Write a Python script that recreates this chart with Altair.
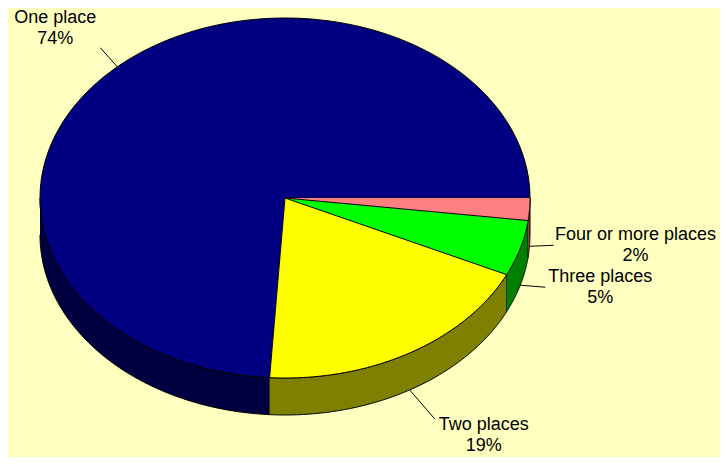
import altair as alt
import pandas as pd

# ---- data ----
CATEGORIES = ["One place", "Two places", "Three places", "Four or more places"]
VALUES = [74, 19, 5, 2]

# ---- style / layout (not data) ----
TOP_COLORS = ["#000080", "#FFFF00", "#00FF00", "#FF8080"]
SIDE_COLORS = ["#000040", "#808000", "#008000", "#804040"]
BG = "#FFFFC0"
# leader end offset from slice mid-point (px), first-line centre offset from leader end (px)
LEADER_DX = [-17, 25, 25, 24]
LEADER_DY = [-19, 29, 2, -1]
TEXT_DX = [-45, 49, 55, 82]
TEXT_DY = [-29.5, 6, -10.5, -10]

W, H = 712, 449
CX, CY = 277, 190          # pie centre in chart px
RX, RY, DEPTH = 245, 180, 37
S = RY / RX
D = DEPTH / RX
N = 120

df = pd.DataFrame({
    "category": CATEGORIES,
    "value": VALUES,
    "idx": list(range(len(CATEGORIES))),
    "ldx": [v / RX for v in LEADER_DX],
    "ldy": [-v / RX for v in LEADER_DY],
    "tdx": [v / RX for v in TEXT_DX],
    "tdy": [-v / RX for v in TEXT_DY],
})

xs = alt.Scale(domain=[-CX / RX, (W - CX) / RX], nice=False, zero=False)
ys = alt.Scale(domain=[(CY - H) / RX, CY / RX], nice=False, zero=False)
top_fill = alt.Scale(domain=CATEGORIES, range=TOP_COLORS)
side_fill = alt.Scale(domain=CATEGORIES, range=SIDE_COLORS)

base = (
    alt.Chart(df)
    .transform_window(cum="sum(value)", sort=[alt.SortField("idx")], frame=[None, 0])
    .transform_joinaggregate(total="sum(value)")
    .transform_calculate(
        a0="2*PI*(datum.cum-datum.value)/datum.total",
        a1="2*PI*datum.cum/datum.total",
    )
)

walls = (
    base.transform_calculate(b0="max(datum.a0, PI)", b1="min(datum.a1, 2*PI)")
    .transform_filter("datum.b1 > datum.b0")
    .transform_calculate(k=f"sequence(0, {2 * N + 2})")
    .transform_flatten(["k"])
    .transform_calculate(
        j=f"datum.k <= {N} ? datum.k : {2 * N + 1} - datum.k",
    )
    .transform_calculate(
        t=f"datum.b0 + (datum.b1 - datum.b0) * datum.j / {N}",
    )
    .transform_calculate(
        px="cos(datum.t)",
        py=f"{S}*sin(datum.t) - (datum.k <= {N} ? 0 : {D})",
    )
    .mark_line(stroke="black", strokeWidth=1, strokeJoin="round")
    .encode(
        x=alt.X("px:Q", scale=xs, axis=None),
        y=alt.Y("py:Q", scale=ys, axis=None),
        order="k:Q",
        detail="category:N",
        fill=alt.Fill("category:N", scale=side_fill, legend=None),
    )
)

tops = (
    base.transform_calculate(k=f"sequence(-1, {N + 1})")
    .transform_flatten(["k"])
    .transform_calculate(t=f"datum.a0 + (datum.a1 - datum.a0) * max(datum.k, 0) / {N}")
    .transform_calculate(
        px="datum.k < 0 ? 0 : cos(datum.t)",
        py=f"datum.k < 0 ? 0 : {S}*sin(datum.t)",
    )
    .mark_line(stroke="black", strokeWidth=1, strokeJoin="round")
    .encode(
        x=alt.X("px:Q", scale=xs, axis=None),
        y=alt.Y("py:Q", scale=ys, axis=None),
        order="k:Q",
        detail="category:N",
        fill=alt.Fill("category:N", scale=top_fill, legend=None),
    )
)

lab = base.transform_calculate(m="(datum.a0 + datum.a1) / 2").transform_calculate(
    sx="cos(datum.m)",
    sy=f"{S}*sin(datum.m) - (sin(datum.m) < 0 ? {D} : 0)",
).transform_calculate(
    ex="datum.sx + datum.ldx",
    ey="datum.sy + datum.ldy",
).transform_calculate(
    tx="datum.ex + datum.tdx",
    ty="datum.ey + datum.tdy",
    label="datum.category + '\\n' + round(100*datum.value/datum.total) + '%'",
)

leaders = lab.mark_rule(color="black", strokeWidth=1).encode(
    x=alt.X("sx:Q", scale=xs, axis=None),
    y=alt.Y("sy:Q", scale=ys, axis=None),
    x2="ex:Q",
    y2="ey:Q",
)

texts = lab.mark_text(
    font="Liberation Sans", fontSize=18, lineBreak="\n", lineHeight=21,
    align="center", baseline="middle", color="black",
).encode(
    x=alt.X("tx:Q", scale=xs, axis=None),
    y=alt.Y("ty:Q", scale=ys, axis=None),
    text="label:N",
)

chart = (
    alt.layer(walls, tops, leaders, texts)
    .resolve_scale(fill="independent")
    .properties(width=W, height=H, background=BG, padding=0, autosize="none")
    .configure_view(strokeWidth=0)
)

chart.save("out.html", embed_options={"renderer": "svg", "actions": False})
